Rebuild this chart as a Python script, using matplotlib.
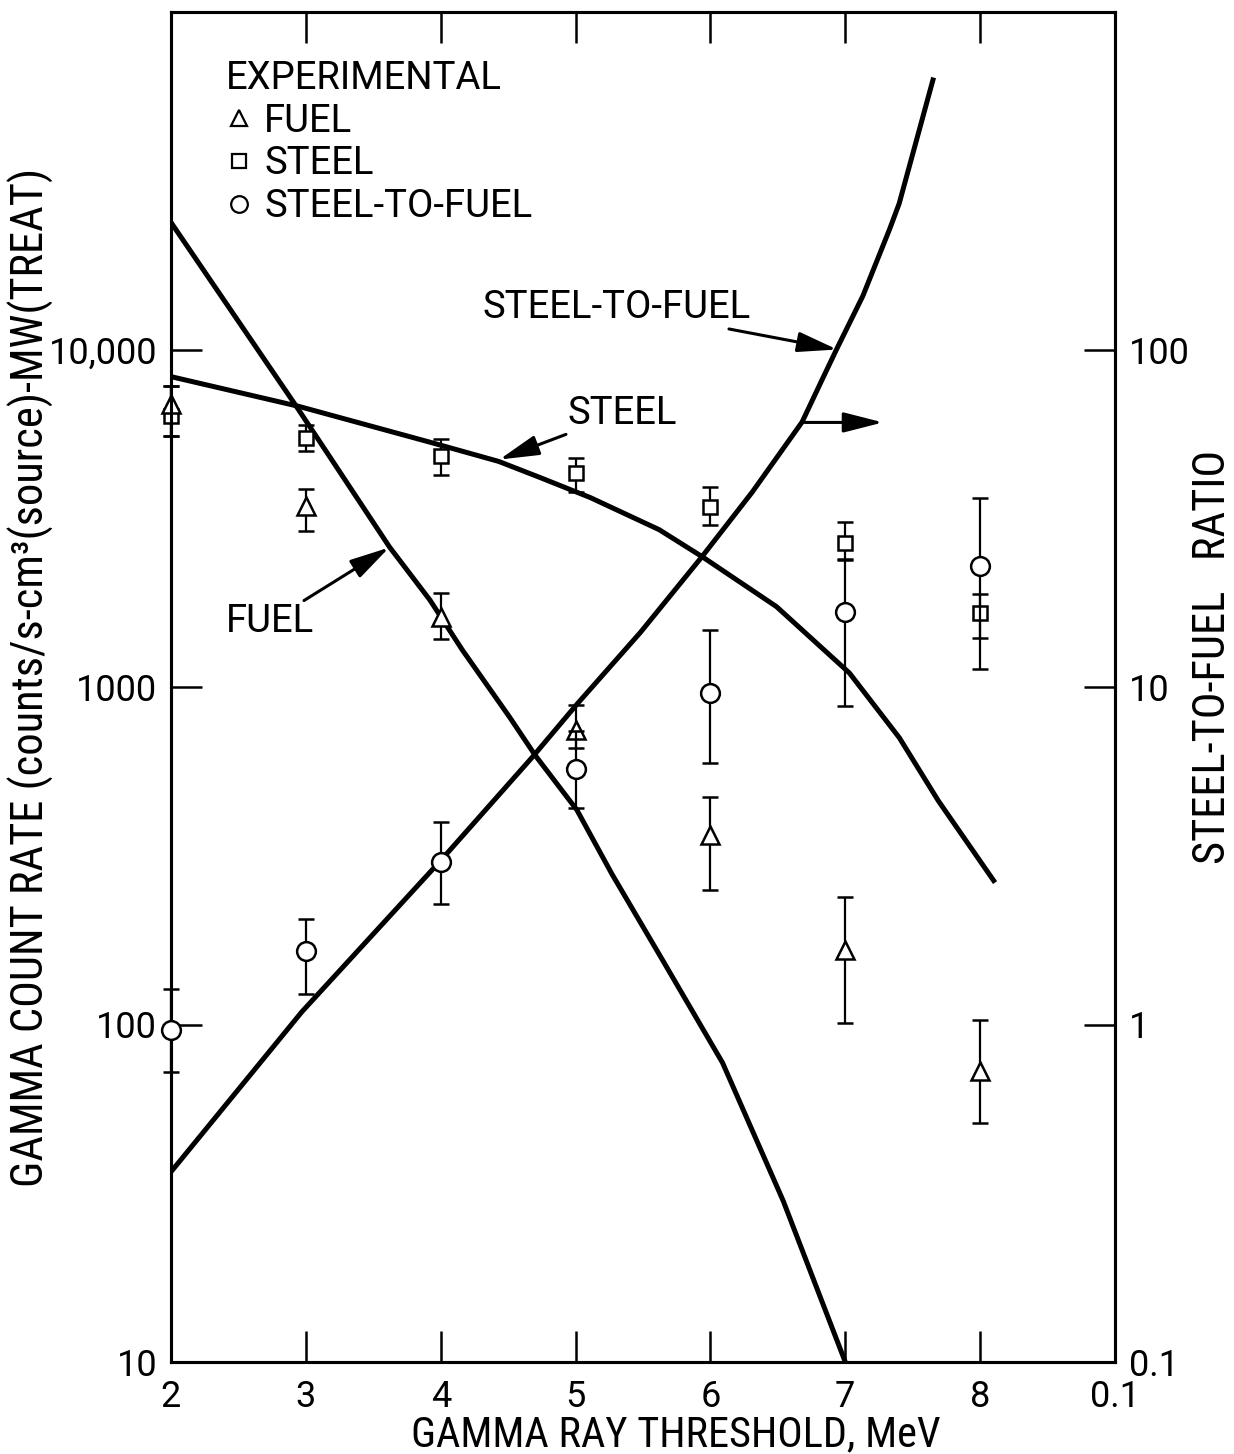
import matplotlib
matplotlib.use("Agg")
import matplotlib.pyplot as plt
from matplotlib import font_manager
from matplotlib.lines import Line2D

# ---------------- data ----------------
thresholds = [2, 3, 4, 5, 6, 7, 8]

fuel_exp = [6900, 3440, 1610, 745, 364, 166, 73]
fuel_lo = [5560, 2900, 1390, 661, 250, 101, 51]
fuel_hi = [7820, 3870, 1900, 885, 472, 238, 103]

steel_exp = [6370, 5480, 4820, 4310, 3420, 2675, 1660]
steel_lo = [5560, 5000, 4260, 3790, 3030, 2380, 1400]
steel_hi = [7820, 5990, 5440, 4780, 3920, 3090, 1880]

ratio_exp = [0.966, 1.65, 3.03, 5.71, 9.6, 16.7, 22.9]
ratio_lo = [0.725, 1.23, 2.27, 4.38, 5.97, 8.8, 11.3]
ratio_hi = [1.27, 2.06, 3.97, 7.4, 14.8, 24.0, 36.4]

fuel_curve_x = [2.0, 2.93, 3.62, 3.92, 4.16, 4.51, 4.70, 5.01, 5.27, 5.65, 6.09, 6.54, 7.0]
fuel_curve_y = [23800, 6780, 2600, 1810, 1288, 815, 628, 432, 279, 154, 77, 30, 10]

steel_curve_x = [2.0, 2.95, 3.93, 4.43, 4.74, 5.11, 5.62, 5.94, 6.49, 7.03, 7.40, 7.69, 8.1]
steel_curve_y = [8310, 6780, 5300, 4660, 4170, 3640, 2925, 2431, 1730, 1101, 708, 460, 267]

ratio_curve_x = [2.0, 2.97, 3.99, 4.68, 5.01, 5.48, 5.94, 6.31, 6.68, 6.83, 6.94, 7.13, 7.33, 7.40, 7.65]
ratio_curve_y = [0.366, 1.09, 3.03, 6.2, 8.89, 14.5, 24.4, 37.8, 61, 81.7, 101, 144, 228, 271, 629]

x_ticks = [2, 3, 4, 5, 6, 7, 8, 9]
x_tick_labels = ["2", "3", "4", "5", "6", "7", "8", "0.1"]
left_ticks = [10, 100, 1000, 10000]
left_tick_labels = ["10", "100", "1000", "10,000"]
right_ticks = [0.1, 1, 10, 100]
right_tick_labels = ["0.1", "1", "10", "100"]


# ---------------- fonts ----------------
def pick_condensed():
    entries = font_manager.fontManager.ttflist
    names = {e.name for e in entries}
    for p in ["Roboto Condensed", "Liberation Sans Narrow", "Open Sans Condensed",
              "Noto Sans Condensed", "DejaVu Sans Condensed", "Arial Narrow"]:
        if p in names:
            return p, "normal"
    for fam in ["Roboto", "Noto Sans", "Open Sans", "DejaVu Sans", "Liberation Sans", "Lato"]:
        for e in entries:
            if e.name == fam and e.style == "normal" and e.stretch in ("condensed", "semi-condensed"):
                return fam, e.stretch
    return None, None


plt.rcParams["font.family"] = ["Roboto", "DejaVu Sans"]
plt.rcParams["font.weight"] = "normal"
cfam, cstretch = pick_condensed()
if cfam is not None:
    LABEL_FONT = dict(family=[cfam, "DejaVu Sans"], stretch=cstretch)
    LAB_FS, LEFT_FS, RIGHT_FS = 30.5, 32, 32
else:
    LABEL_FONT = dict(family=["Roboto", "DejaVu Sans"])
    LAB_FS, LEFT_FS, RIGHT_FS = 27.5, 29, 30
ANN_FS, LEG_FS, TICK_FS = 27.5, 27.5, 26

W, H = 1234, 1454
fig = plt.figure(figsize=(W / 100, H / 100), dpi=100)
fig.patch.set_facecolor("white")
L, R, T, B = 171, 1115, 12, 1362
ax = fig.add_axes([L / W, 1 - B / H, (R - L) / W, (B - T) / H])
ax2 = ax.twinx()

LW_CURVE = 3.6
for a in (ax, ax2):
    for s in a.spines.values():
        s.set_linewidth(2.2)

ax.set_xlim(2, 9)
ax.set_yscale("log")
ax.set_ylim(10, 1.0e5)
ax2.set_yscale("log")
ax2.set_ylim(0.1, 1.0e3)

# curves
ax.plot(fuel_curve_x, fuel_curve_y, color="black", lw=LW_CURVE, zorder=3)
ax.plot(steel_curve_x, steel_curve_y, color="black", lw=LW_CURVE, zorder=3)
ax2.plot(ratio_curve_x, ratio_curve_y, color="black", lw=LW_CURVE, zorder=3)

eb_kw = dict(ls="none", ecolor="black", elinewidth=1.6, capsize=5.5, capthick=2.2,
             mfc="white", mec="black", mew=1.8, zorder=4)


def errs(vals, lo, hi):
    return [[v - l for v, l in zip(vals, lo)], [h - v for v, h in zip(vals, hi)]]


def draw_eb(axis, vals, lo, hi, marker, ms):
    cont = axis.errorbar(thresholds, vals, yerr=errs(vals, lo, hi), marker=marker, ms=ms, **eb_kw)
    for art in cont.get_children():
        art.set_clip_on(False)


draw_eb(ax, steel_exp, steel_lo, steel_hi, "s", 10.5)
draw_eb(ax, fuel_exp, fuel_lo, fuel_hi, "^", 13)
draw_eb(ax2, ratio_exp, ratio_lo, ratio_hi, "o", 13.5)

# ticks
ax.set_xticks(x_ticks)
ax.set_xticklabels(x_tick_labels, fontsize=TICK_FS)
ax.set_yticks(left_ticks)
ax.set_yticklabels(left_tick_labels, fontsize=TICK_FS)
ax.yaxis.set_minor_locator(matplotlib.ticker.NullLocator())
ax2.set_yticks(right_ticks)
ax2.set_yticklabels(right_tick_labels, fontsize=TICK_FS)
ax2.yaxis.set_minor_locator(matplotlib.ticker.NullLocator())
ax.tick_params(axis="x", direction="in", length=22, width=1.8, top=True, bottom=True, pad=12)
ax.tick_params(axis="y", direction="in", length=22, width=1.8, left=True, right=False, pad=10)
ax2.tick_params(axis="y", direction="in", length=22, width=1.8, right=True, left=False, pad=10)

# axis labels
ax.set_xlabel("GAMMA RAY THRESHOLD, MeV", fontsize=LAB_FS, **LABEL_FONT)
ax.xaxis.set_label_coords((676 - L) / (R - L), -(1414 - B) / (B - T))
ax.set_ylabel("GAMMA COUNT RATE (counts/s-cm³(source)-MW(TREAT)", fontsize=LEFT_FS, **LABEL_FONT)
ax.yaxis.set_label_coords((54 - L) / (R - L), (B - 677) / (B - T))
ax2.set_ylabel("STEEL-TO-FUEL   RATIO", fontsize=RIGHT_FS, **LABEL_FONT)
ax2.yaxis.set_label_coords((1192 - L) / (R - L), (B - 657) / (B - T))

# legend
handles = [
    Line2D([], [], ls="none", marker="^", ms=12, mfc="white", mec="black", mew=1.6),
    Line2D([], [], ls="none", marker="s", ms=10, mfc="white", mec="black", mew=1.6),
    Line2D([], [], ls="none", marker="o", ms=12, mfc="white", mec="black", mew=1.6),
]
leg = ax.legend(handles, ["FUEL", "STEEL", "STEEL-TO-FUEL"], title="EXPERIMENTAL",
                loc="upper left", bbox_to_anchor=((226 - L) / (R - L), (B - 60) / (B - T)),
                frameon=False, fontsize=LEG_FS, title_fontsize=LEG_FS, handlelength=0.7,
                handletextpad=0.3, labelspacing=0.15, borderpad=0, borderaxespad=0,
                alignment="left")

# annotations
arrow_kw = dict(arrowstyle="-|>,head_length=1.1,head_width=0.28", color="black", lw=2.2,
                mutation_scale=22, shrinkA=0, shrinkB=0)
ax.annotate("STEEL-TO-FUEL", xy=(6.94, 1.0e4), xytext=(6.30, 1.33e4), fontsize=ANN_FS,
            ha="right", va="center", arrowprops=arrow_kw)
ax.annotate("STEEL", xy=(4.435, 4720), xytext=(4.94, 6480), fontsize=ANN_FS,
            ha="left", va="center", arrowprops=arrow_kw)
ax.annotate("FUEL", xy=(3.618, 2590), xytext=(3.06, 1560), fontsize=ANN_FS,
            ha="right", va="center", arrowprops=arrow_kw)
ax.annotate("", xy=(7.28, 6080), xytext=(6.70, 6080), arrowprops=arrow_kw)

fig.savefig("out.png", dpi=100, facecolor="white")
